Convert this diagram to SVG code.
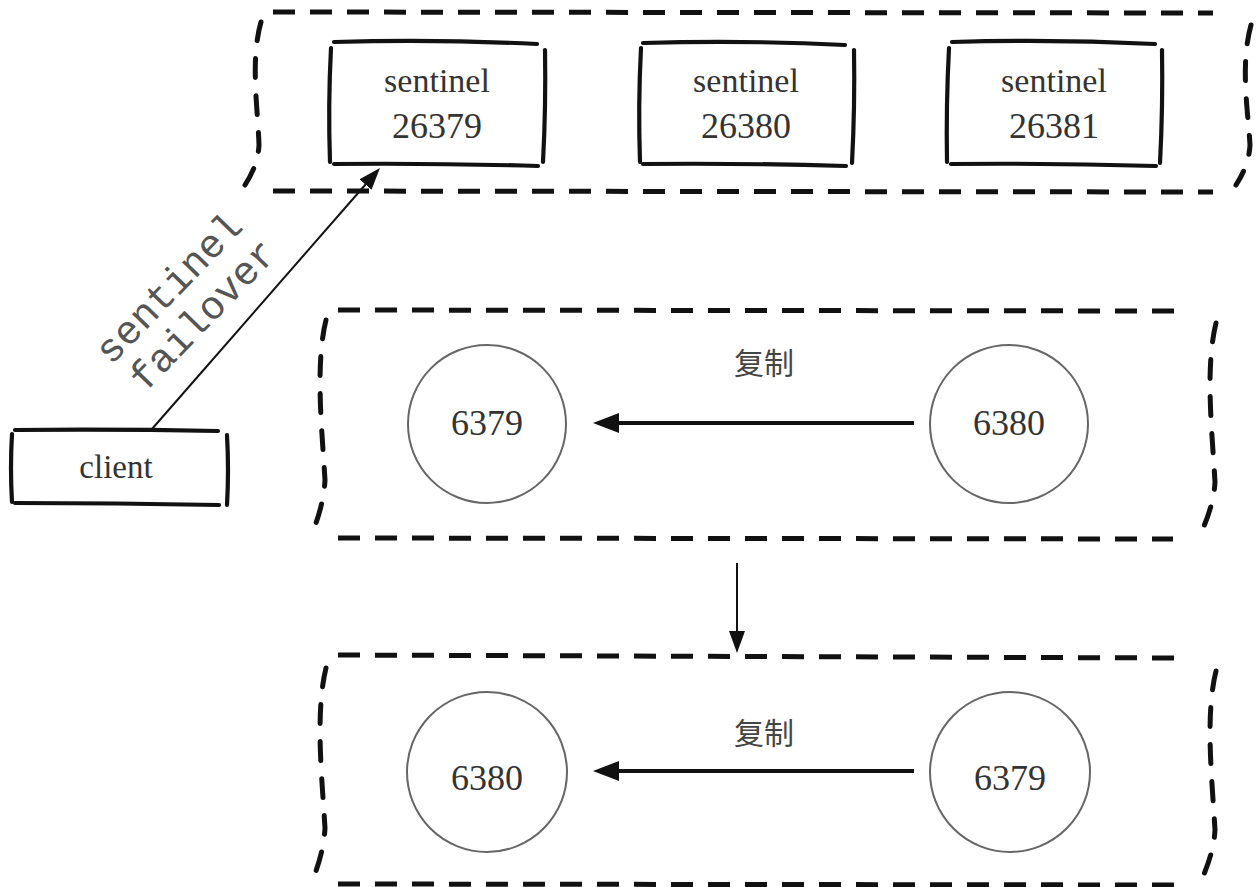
<svg xmlns="http://www.w3.org/2000/svg" width="1257" height="887" viewBox="0 0 1257 887">
<style>
.bg{fill:#fff}
.dash{fill:none;stroke:#111;stroke-width:5;stroke-dasharray:22 15;stroke-linecap:butt}
.vdash{fill:none;stroke:#111;stroke-width:5;stroke-dasharray:19 18;stroke-linecap:round}
.sk{fill:none;stroke:#111;stroke-width:4.2;stroke-linecap:round}
.circ{fill:#fff;stroke:#666;stroke-width:2}
.lbl{font-family:"Liberation Serif",serif;fill:#333;text-anchor:middle}
.mono{font-family:"Liberation Mono",monospace;font-size:40px;fill:#555;text-anchor:middle}
.cjk{font-family:"Noto Sans CJK SC",sans-serif;font-size:30px;fill:#444;text-anchor:middle}
.thick{stroke:#111;stroke-width:4;fill:none}
.thin{stroke:#111;stroke-width:2;fill:none}
</style>
<defs>
<marker id="bigHead" markerUnits="userSpaceOnUse" markerWidth="30" markerHeight="24" refX="16" refY="10" orient="auto">
<path d="M0,0 L26,10 L0,20 z" fill="#111"/>
</marker>
<marker id="smallHead" markerUnits="userSpaceOnUse" markerWidth="26" markerHeight="20" refX="14" refY="8" orient="auto">
<path d="M0,0 L22,8 L0,16 z" fill="#111"/>
</marker>
</defs>
<rect class="bg" x="0" y="0" width="1257" height="887"/>

<g id="sentinel-group">
<path class="dash" d="M273,12 L1213,13"/>
<path class="dash" d="M273,191 L1213,192"/>
<path class="vdash" d="M261,22 C250,60 258,110 259,145 Q258,165 245,185"/>
<path class="vdash" d="M1251,25 C1240,65 1248,110 1250,145 Q1249,165 1236,185"/>
</g>

<g id="sentinel-26379">
<path class="sk" d="M334,42 Q436,39 537,44"/>
<path class="sk" d="M334,164 Q436,163 538,166"/>
<path class="sk" d="M331,48 Q328,105 330,162"/>
<path class="sk" d="M545,50 Q546,106 543,162"/>
<text class="lbl" x="437" y="92" font-size="34">sentinel</text>
<text class="lbl" x="437" y="138" font-size="36">26379</text>
</g>

<g id="sentinel-26380">
<path class="sk" d="M643,43 Q745,40 845,45"/>
<path class="sk" d="M643,164 Q745,163 846,166"/>
<path class="sk" d="M641,48 Q638,105 640,162"/>
<path class="sk" d="M854,50 Q855,106 852,163"/>
<text class="lbl" x="746" y="92" font-size="34">sentinel</text>
<text class="lbl" x="746" y="138" font-size="36">26380</text>
</g>

<g id="sentinel-26381">
<path class="sk" d="M952,42 Q1054,39 1155,44"/>
<path class="sk" d="M951,164 Q1054,163 1156,166"/>
<path class="sk" d="M949,48 Q946,105 947,162"/>
<path class="sk" d="M1162,50 Q1163,106 1160,163"/>
<text class="lbl" x="1054" y="92" font-size="34">sentinel</text>
<text class="lbl" x="1054" y="138" font-size="36">26381</text>
</g>

<g id="client">
<path class="sk" d="M15,430 Q116,429 218,431"/>
<path class="sk" d="M15,503 Q116,503 219,505"/>
<path class="sk" d="M12,434 Q10,468 12,502"/>
<path class="sk" d="M227,435 Q229,470 227,505"/>
<text class="lbl" x="116" y="478" font-size="33">client</text>
</g>

<g id="before-group">
<path class="dash" d="M338,310 L1177,311"/>
<path class="dash" d="M338,538 L1173,539"/>
<path class="vdash" d="M326,320 C315,365 322,430 325,480 Q324,500 316,523"/>
<path class="vdash" d="M1216,323 C1205,368 1212,430 1215,482 Q1214,502 1204,526"/>
</g>

<g id="node-6379-a">
<circle class="circ" cx="487" cy="424" r="79"/>
<text class="lbl" x="487" y="435" font-size="36">6379</text>
</g>
<g id="node-6380-a">
<circle class="circ" cx="1009" cy="424" r="79"/>
<text class="lbl" x="1009" y="435" font-size="36">6380</text>
</g>

<g id="after-group">
<path class="dash" d="M338,655 L1175,658"/>
<path class="dash" d="M338,884 L1175,885"/>
<path class="vdash" d="M326,668 C315,713 322,778 325,828 Q324,848 316,871"/>
<path class="vdash" d="M1216,671 C1205,716 1212,778 1215,830 Q1214,850 1204,874"/>
</g>

<g id="node-6380-b">
<circle class="circ" cx="487" cy="772" r="80"/>
<text class="lbl" x="487" y="790" font-size="36">6380</text>
</g>
<g id="node-6379-b">
<circle class="circ" cx="1010" cy="772" r="80"/>
<text class="lbl" x="1010" y="790" font-size="36">6379</text>
</g>

<g id="connectors">
<path class="thin" d="M152,429 L374.7,174" marker-end="url(#smallHead)"/>
<text class="mono" transform="translate(178,297) rotate(-46)">sentinel</text>
<text class="mono" transform="translate(212,324) rotate(-46)">failover</text>
<path class="thick" d="M914,423 L603,423" marker-end="url(#bigHead)"/>
<text class="cjk" x="764" y="374">复制</text>
<path class="thick" d="M914,771 L603,771" marker-end="url(#bigHead)"/>
<text class="cjk" x="764" y="744">复制</text>
<path class="thin" d="M737,563 L737,645" stroke-width="1.8" marker-end="url(#smallHead)"/>
</g>
</svg>
